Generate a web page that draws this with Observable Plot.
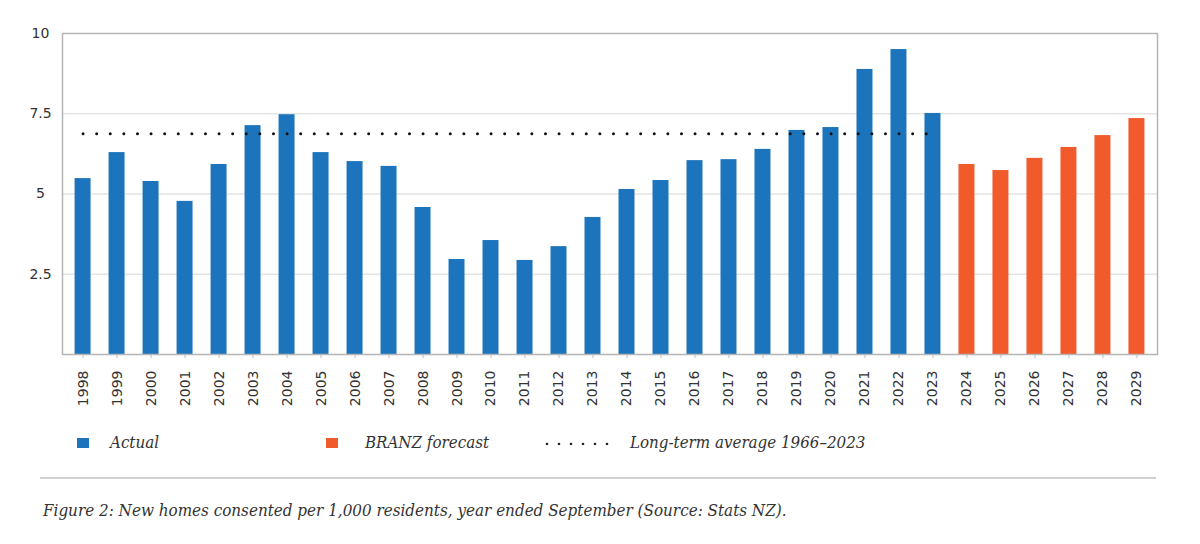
<!DOCTYPE html>
<html>
<head>
<meta charset="utf-8">
<script src="https://cdn.jsdelivr.net/npm/d3@7"></script>
<script src="https://cdn.jsdelivr.net/npm/@observablehq/plot@0.6"></script>
<style>
  body { margin: 0; background: #fff; }
  #wrap { position: relative; width: 1200px; height: 544px; overflow: hidden; }
  #chart { position: absolute; left: 0; top: 0; }
  .leg, .cap { position: absolute; font-family: "DejaVu Serif Condensed", "DejaVu Serif", serif; font-stretch: condensed; font-style: italic; color: #333; white-space: nowrap; }
  .leg { font-size: 16.8px; top: 432px; line-height: 20px; }
  .sw { position: absolute; width: 12px; height: 10px; top: 438px; }
  .dots { position: absolute; top: 442px; height: 3px; }
  .cap { font-size: 16.9px; top: 500px; left: 43px; line-height: 20px; }
  #sep { position: absolute; left: 40px; top: 477px; width: 1116px; height: 2px; background: #d0d0d0; }
</style>
</head>
<body>
<div id="wrap">
  <div id="chart"></div>
  <div class="sw" style="left:77px;background:#1c75bc"></div>
  <div class="leg" style="left:110px">Actual</div>
  <div class="sw" style="left:326px;background:#f15a2b"></div>
  <div class="leg" style="left:365px">BRANZ forecast</div>
  <svg class="dots" style="left:545px" width="66" height="4"><line x1="2" y1="2" x2="64" y2="2" stroke="#222" stroke-width="2.6" stroke-linecap="round" stroke-dasharray="0,12"/></svg>
  <div class="leg" style="left:630px">Long-term average 1966–2023</div>
  <div id="sep"></div>
  <div class="cap">Figure 2: New homes consented per 1,000 residents, year ended September (Source: Stats NZ).</div>
</div>
<script>
const actualYears = ["1998","1999","2000","2001","2002","2003","2004","2005","2006","2007","2008","2009","2010","2011","2012","2013","2014","2015","2016","2017","2018","2019","2020","2021","2022","2023"];
const actualValues = [5.48,6.29,5.39,4.77,5.92,7.13,7.47,6.29,6.01,5.86,4.58,2.96,3.55,2.93,3.36,4.27,5.14,5.42,6.04,6.07,6.39,6.98,7.07,8.88,9.50,7.51];
const forecastYears = ["2024","2025","2026","2027","2028","2029"];
const forecastValues = [5.92,5.73,6.11,6.45,6.82,7.35];
const longTermAverage = 6.88;
const averageSpan = ["1998","2023"];
const yTicks = [2.5,5,7.5,10];
const yTickLabels = ["2.5","5","7.5","10"];
const gridValues = [2.5,5,7.5];

const actual = actualYears.map((y,i)=>({year:y, value:actualValues[i]}));
const forecast = forecastYears.map((y,i)=>({year:y, value:forecastValues[i]}));
const avg = averageSpan.map(y=>({year:y, value:longTermAverage}));
const allYears = actualYears.concat(forecastYears);

const chart = Plot.plot({
  width: 1200,
  height: 420,
  marginTop: 33,
  marginBottom: 66,
  marginLeft: 62,
  marginRight: 43,
  style: {fontFamily: "DejaVu Sans, sans-serif", fontSize: "13px", color: "#333", background: "#fff"},
  x: {type: "band", domain: allYears, paddingInner: 0.53, paddingOuter: 0.37},
  y: {domain: [0,10]},
  marks: [
    Plot.ruleY(gridValues, {stroke: "#e4e4e4", strokeWidth: 1.5}),
    Plot.barY(actual, {x: "year", y: "value", fill: "#1c75bc"}),
    Plot.barY(forecast, {x: "year", y: "value", fill: "#f15a2b"}),
    Plot.lineY(avg, {x: "year", y: "value", stroke: "#111", strokeWidth: 3, strokeLinecap: "round", strokeDasharray: "0,13.6"}),
    Plot.frame({stroke: "#b5b5b5", strokeWidth: 1.5}),
    Plot.axisY({ticks: yTicks, tickFormat: d => yTickLabels[yTicks.indexOf(d)], tickSize: 0, tickPadding: 22, textAnchor: "middle", fontSize: 14, label: null}),
    Plot.axisX({tickRotate: -90, tickSize: 4, tickPadding: 12, stroke: "#bbb", fontSize: 14, label: null})
  ]
});
document.getElementById("chart").appendChild(chart);
</script>
</body>
</html>
